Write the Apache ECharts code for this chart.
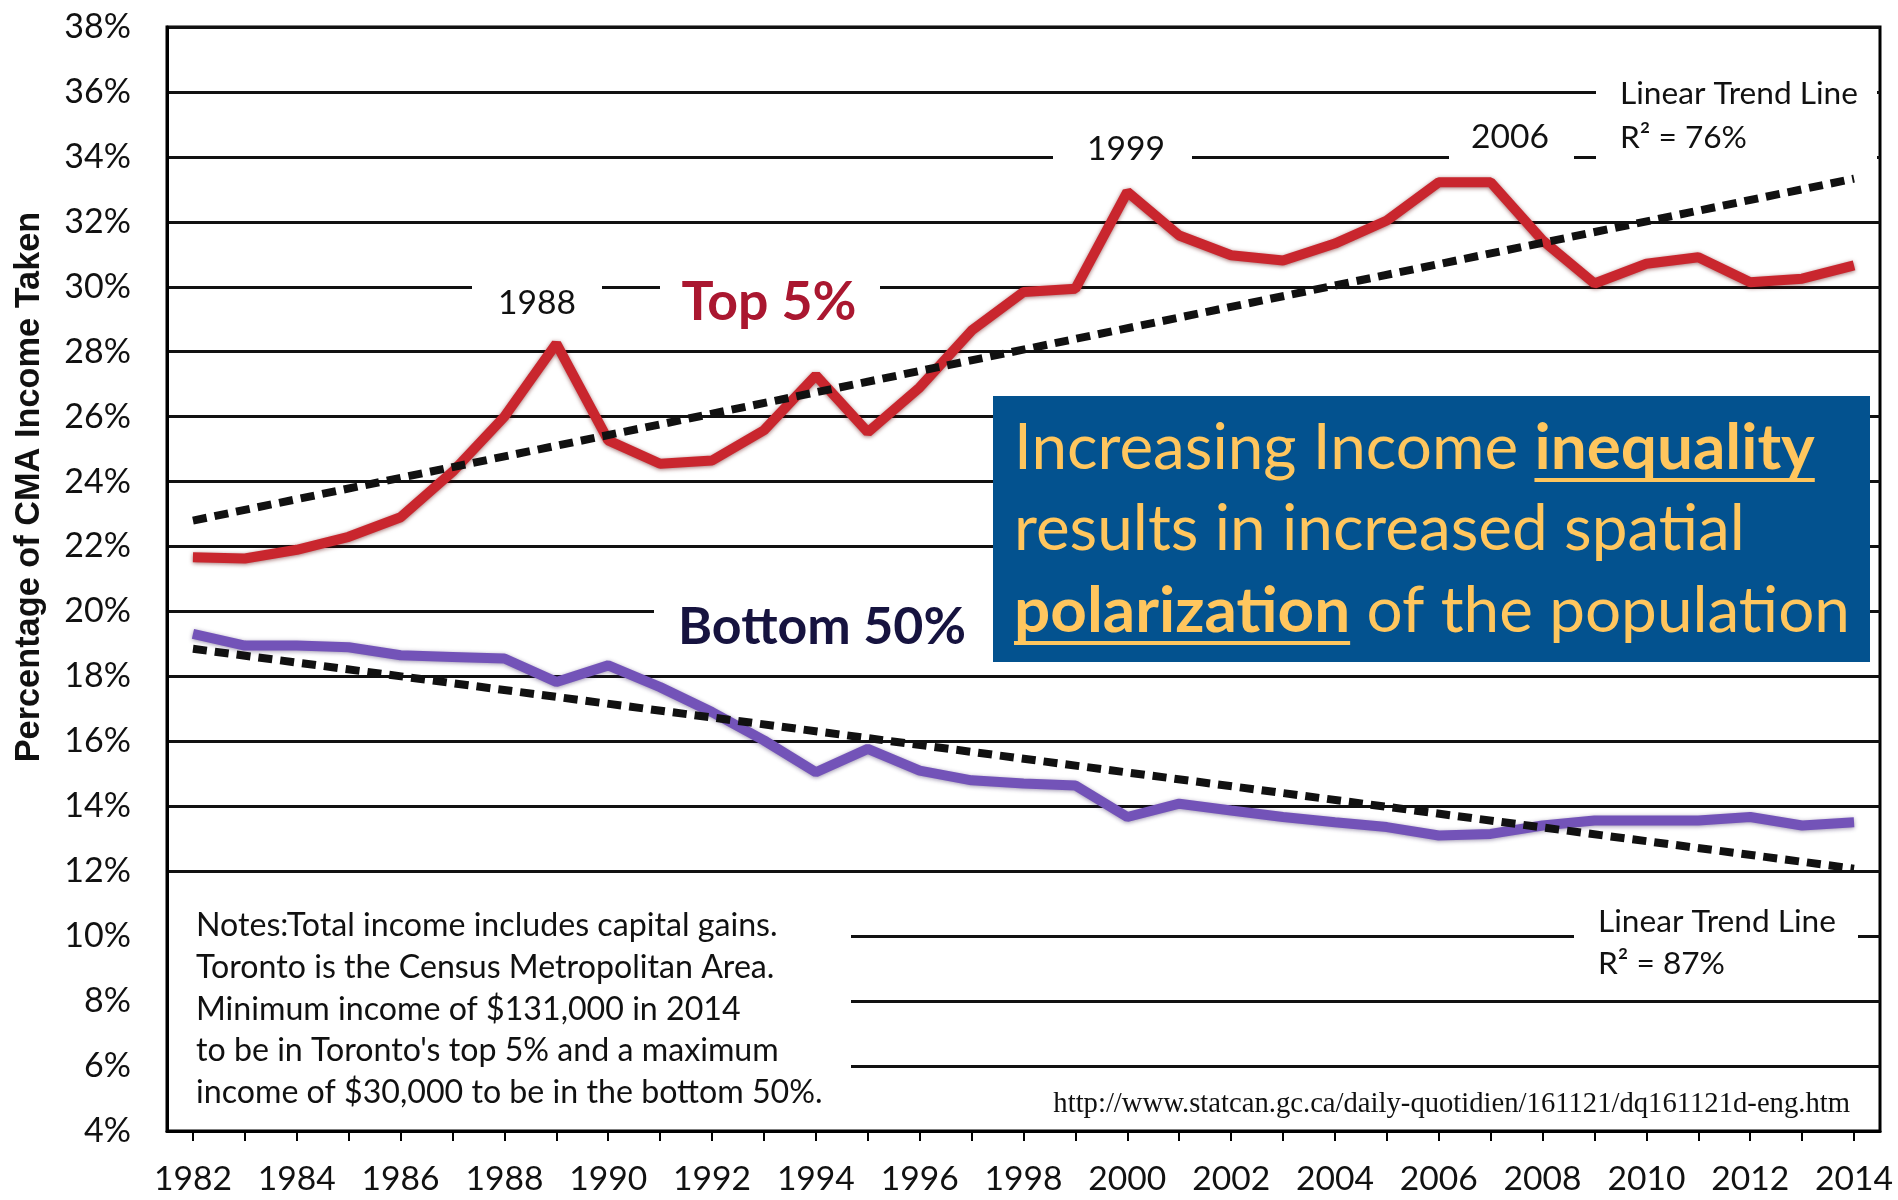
<!DOCTYPE html>
<html>
<head>
<meta charset="utf-8">
<script src="https://cdn.jsdelivr.net/npm/echarts@6/dist/echarts.min.js"></script>
<style>
html,body{margin:0;padding:0;background:#fff;}
#chart{width:1898px;height:1200px;}
</style>
</head>
<body>
<div id="chart"></div>
<script>
// ---------------- data ----------------
const years = ['1982','1983','1984','1985','1986','1987','1988','1989','1990','1991','1992',
  '1993','1994','1995','1996','1997','1998','1999','2000','2001','2002','2003','2004','2005',
  '2006','2007','2008','2009','2010','2011','2012','2013','2014'];
const top5 = [21.67,21.63,21.9,22.3,22.9,24.3,26.0,28.25,25.27,24.55,24.65,
  25.58,27.27,25.52,26.9,28.65,29.84,29.94,32.92,31.58,30.97,30.81,31.33,32.04,
  33.22,33.22,31.43,30.1,30.71,30.91,30.14,30.25,30.66];
const bottom50 = [19.31,18.95,18.95,18.9,18.65,18.6,18.55,17.83,18.34,17.67,16.9,
  16.03,15.05,15.77,15.1,14.8,14.7,14.64,13.67,14.08,13.87,13.67,13.51,13.36,
  13.1,13.15,13.41,13.56,13.56,13.56,13.67,13.41,13.51];
const top5TrendEnds = [22.8, 33.33];      // 1982, 2014
const bottom50TrendEnds = [18.85, 12.08]; // 1982, 2014
const yMin = 4, yMax = 38, yStep = 2;

const notesLines = [
  'Notes:Total income includes capital gains.',
  'Toronto is the Census Metropolitan Area.',
  'Minimum income of $131,000 in 2014',
  "to be in Toronto's top 5% and a maximum",
  'income of $30,000 to be in the bottom 50%.'
];
const sourceUrl = 'http://www.statcan.gc.ca/daily-quotidien/161121/dq161121d-eng.htm';

// ---------------- helpers ----------------
const mctx = document.createElement('canvas').getContext('2d');
function tw(text, weight, size, family){ mctx.font = weight + ' ' + size + 'px ' + family; return mctx.measureText(text).width; }
function fit(text, weight, family, target){ return 100 * target / tw(text, weight, 100, '"' + family + '"'); }

const CAL = 'Lato';
const lastIdx = years.length - 1;

const fsNotes = fit(notesLines[0], 'normal', CAL, 582);
const fsUrl = fit(sourceUrl, 'normal', 'Liberation Serif', 797);
const fsYear = fit('1988', 'normal', CAL, 78);
const fsTop = fit('Top 5%', 'bold', CAL, 175);
const fsBottom = fit('Bottom 50%', 'bold', CAL, 288);
const fsLTL = fit('Linear Trend Line', 'normal', CAL, 238);
const fsTitle = fit('Percentage of CMA Income Taken', 'bold', 'Liberation Sans', 551);
const blueW1 = tw('Increasing Income ', 'normal', 100, CAL) + tw('inequality', 'bold', 100, CAL);
const fsBlue = 100 * 801 / blueW1;

function txt(text, x, y, size, opts){
  opts = opts || {};
  return {
    type: 'text', z: 60,
    style: {
      text: text, x: x, y: y,
      fill: opts.fill || '#111',
      fontSize: size,
      fontFamily: opts.family || CAL,
      fontWeight: opts.weight || 'normal',
      textAlign: opts.align || 'left',
      textVerticalAlign: 'middle'
    }
  };
}
function box(x, y, w, h, fill){
  return { type: 'rect', z: 50, shape: {x: x, y: y, width: w, height: h}, style: {fill: fill || '#fff'} };
}

const graphics = [];
// white gaps behind annotations
graphics.push(box(472, 268, 130, 62));
graphics.push(box(660, 268, 220, 66));
graphics.push(box(1053, 122, 139, 52));
graphics.push(box(1449, 116, 125, 56));
graphics.push(box(1596, 68, 281, 100));
graphics.push(box(654, 585, 339, 70));
graphics.push(box(1574, 898, 284, 86));
graphics.push(box(169, 893, 682, 236));

graphics.push(txt('1988', 537, 303, fsYear, {align: 'center'}));
graphics.push(txt('Top 5%', 769, 303, fsTop, {weight: 'bold', fill: '#aa1730', align: 'center'}));
graphics.push(txt('1999', 1126, 149, fsYear, {align: 'center'}));
graphics.push(txt('2006', 1510, 137, fsYear, {align: 'center'}));
graphics.push(txt('Linear Trend Line', 1620, 94, fsLTL));
graphics.push(txt('R² = 76%', 1620, 138, fsLTL));
graphics.push(txt('Bottom 50%', 822, 627, fsBottom, {weight: 'bold', fill: '#16133f', align: 'center'}));
graphics.push(txt('Linear Trend Line', 1598, 922, fsLTL));
graphics.push(txt('R² = 87%', 1598, 964, fsLTL));
const notesY = [926, 968, 1010, 1051, 1093];
notesLines.forEach((l, i) => graphics.push(txt(l, 196, notesY[i], fsNotes)));
graphics.push(txt(sourceUrl, 1850, 1104, fsUrl, {family: 'Liberation Serif', align: 'right'}));

// y axis title
graphics.push({
  type: 'text', z: 60, x: 30, y: 487, rotation: Math.PI / 2,
  style: { text: 'Percentage of CMA Income Taken', x: 0, y: 0, fill: '#111',
    fontSize: fsTitle, fontFamily: 'Liberation Sans', fontWeight: 'bold',
    textAlign: 'center', textVerticalAlign: 'middle' }
});

// blue call-out box
const yellow = '#ffc65e';
graphics.push(box(993, 396, 877, 266, '#03528f'));
const bx = 1014;
const l1a = 'Increasing Income ', l1b = 'inequality';
const l3a = 'polarization', l3b = ' of the population';
const w1a = tw(l1a, 'normal', fsBlue, CAL), w1b = tw(l1b, 'bold', fsBlue, CAL);
const w3a = tw(l3a, 'bold', fsBlue, CAL);
graphics.push(txt(l1a, bx, 448, fsBlue, {fill: yellow}));
graphics.push(txt(l1b, bx + w1a, 448, fsBlue, {fill: yellow, weight: 'bold'}));
graphics.push({type: 'rect', z: 61, shape: {x: bx + w1a, y: 448 + fsBlue * 0.47, width: w1b, height: 4}, style: {fill: yellow}});
graphics.push(txt('results in increased spatial', bx, 529, fsBlue, {fill: yellow}));
graphics.push(txt(l3a, bx, 611, fsBlue, {fill: yellow, weight: 'bold'}));
graphics.push({type: 'rect', z: 61, shape: {x: bx, y: 611 + fsBlue * 0.47, width: w3a, height: 4}, style: {fill: yellow}});
graphics.push(txt(l3b, bx + w3a, 611, fsBlue, {fill: yellow}));

const chart = echarts.init(document.getElementById('chart'));
chart.setOption({
  animation: false,
  backgroundColor: '#fff',
  grid: { left: 167, right: 18, top: 27, bottom: 69, show: true, borderColor: '#000', borderWidth: 3 },
  xAxis: {
    type: 'category', data: years, boundaryGap: true,
    axisLine: { lineStyle: { color: '#000', width: 3 } },
    axisTick: { show: true, interval: 0, alignWithLabel: true, length: 10, lineStyle: { color: '#000', width: 2 } },
    axisLabel: { interval: 1, color: '#111', fontFamily: CAL, fontSize: fsYear, margin: 31 },
    splitLine: { show: false }
  },
  yAxis: {
    type: 'value', min: yMin, max: yMax, interval: yStep,
    axisLine: { show: true, lineStyle: { color: '#000', width: 3 } },
    axisTick: { show: false },
    axisLabel: { formatter: '{value}%', color: '#111', fontFamily: CAL, fontSize: 34, margin: 36 },
    splitLine: { show: true, lineStyle: { color: '#111', width: 3 } }
  },
  series: [
    { name: 'Top 5%', type: 'line', data: top5, symbol: 'none', z: 3,
      lineStyle: { color: '#c9262e', width: 10, shadowColor: 'rgba(90,0,0,0.55)', shadowBlur: 4, shadowOffsetY: 1 } },
    { name: 'Bottom 50%', type: 'line', data: bottom50, symbol: 'none', z: 3,
      lineStyle: { color: '#7353b8', width: 10, shadowColor: 'rgba(40,20,80,0.45)', shadowBlur: 4, shadowOffsetY: 1 } },
    { name: 'Top 5% trend', type: 'line', symbol: 'none', z: 4,
      data: [[0, top5TrendEnds[0]], [lastIdx, top5TrendEnds[1]]],
      lineStyle: { color: '#111', width: 8, type: [14, 8] } },
    { name: 'Bottom 50% trend', type: 'line', symbol: 'none', z: 4,
      data: [[0, bottom50TrendEnds[0]], [lastIdx, bottom50TrendEnds[1]]],
      lineStyle: { color: '#111', width: 8, type: [14, 8] } }
  ],
  graphic: graphics
});
</script>
</body>
</html>
